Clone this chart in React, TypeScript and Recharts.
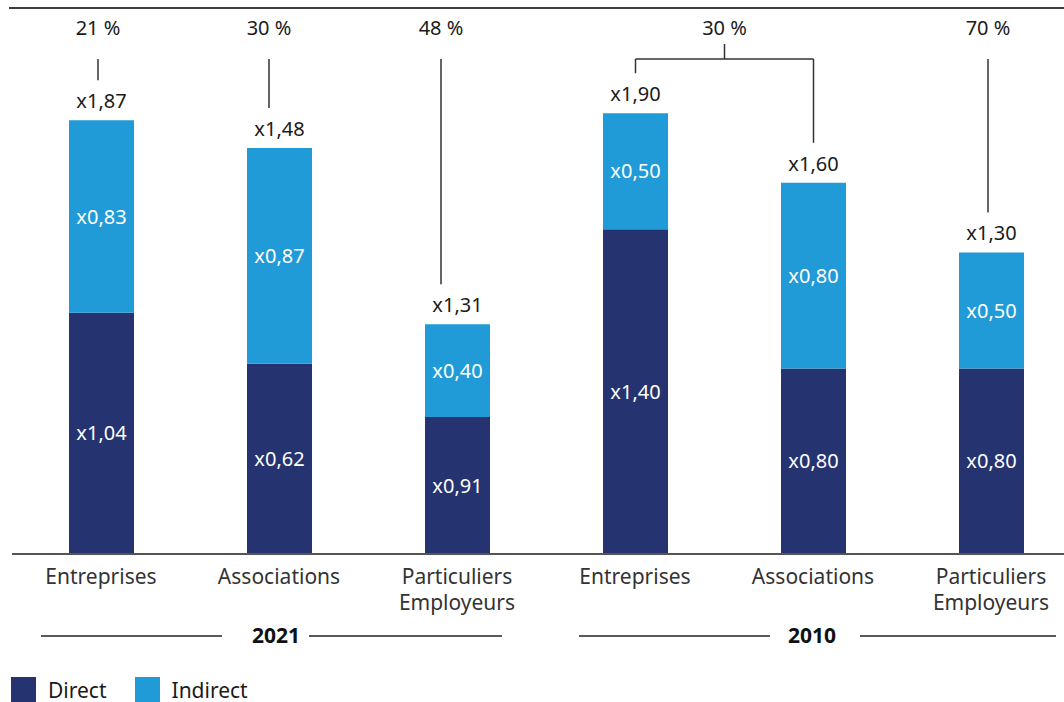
import React from "react";
import { BarChart, Bar, XAxis, YAxis, LabelList } from "recharts";

// data
const keys = ["e21", "a21", "p21", "e10", "a10", "p10"];
const categories = [
  "Entreprises",
  "Associations",
  "Particuliers\nEmployeurs",
  "Entreprises",
  "Associations",
  "Particuliers\nEmployeurs",
];
const years = ["2021", "2021", "2021", "2010", "2010", "2010"];
const direct = [1.04, 0.82, 0.59, 1.4, 0.8, 0.8];
const indirect = [0.83, 0.93, 0.4, 0.5, 0.8, 0.5];
const directLabels = ["x1,04", "x0,62", "x0,91", "x1,40", "x0,80", "x0,80"];
const indirectLabels = ["x0,83", "x0,87", "x0,40", "x0,50", "x0,80", "x0,50"];
const totalLabels = ["x1,87", "x1,48", "x1,31", "x1,90", "x1,60", "x1,30"];
const shareLabels = ["21 %", "30 %", "48 %", "30 %", "", "70 %"];
// 2 = bracket joining this bar and the next one
const shareSpan = [1, 1, 1, 2, 0, 1];

const data = keys.map((k, i) => ({
  key: k,
  name: categories[i],
  year: years[i],
  direct: direct[i],
  indirect: indirect[i],
  directLabel: directLabels[i],
  indirectLabel: indirectLabels[i],
}));

const NAVY = "#253470";
const BLUE = "#209bd7";
const FONT = "'Noto Sans', 'Open Sans', sans-serif";
const TEXT = "#1a1a1a";

const W = 1080;
const H = 702;
const AXIS_H = 30;
const margin = { top: 90, right: 0, bottom: 148 - AXIS_H, left: 12 };
const BAND = (W - margin.left - margin.right) / keys.length;

// small nudges of the share markers, as in the original layout
const shareOffset = [-3.5, -10.5, -16.5, 0, 0, -3.5];
const SHARE_LINE_TOP = 59;

const yearRow: Record<string, { tx: number; l1: number; l2: number; r1: number; r2: number }> = {
  "2021": { tx: -3, l1: -238, l2: -57, r1: 30, r2: 223 },
  "2010": { tx: -1, l1: -234, l2: -43, r1: 47, r2: 243 },
};

const TopMarks = (props: any) => {
  const { x, y, width, index } = props;
  const cx = x + width / 2;
  const items: React.ReactNode[] = [];
  items.push(
    <text key="t" x={cx} y={y - 12} textAnchor="middle" fontSize={20} fill={TEXT} fontFamily={FONT}>
      {totalLabels[index]}
    </text>
  );
  const span = shareSpan[index];
  const lx = cx + shareOffset[index];
  items.push(
    <line key="v" x1={lx} x2={lx} y1={SHARE_LINE_TOP} y2={y - 40} stroke="#333" strokeWidth={1.5} />
  );
  if (span === 2) {
    const mid = cx + BAND / 2;
    items.push(
      <line key="h" x1={cx} x2={cx + BAND} y1={SHARE_LINE_TOP} y2={SHARE_LINE_TOP} stroke="#333" strokeWidth={1.5} />,
      <line key="m" x1={mid} x2={mid} y1={44} y2={SHARE_LINE_TOP} stroke="#333" strokeWidth={1.5} />,
      <text key="p" x={mid} y={35} textAnchor="middle" fontSize={20} fill={TEXT} fontFamily={FONT}>
        {shareLabels[index]}
      </text>
    );
  } else if (span === 1) {
    items.push(
      <text key="p" x={lx} y={35} textAnchor="middle" fontSize={20} fill={TEXT} fontFamily={FONT}>
        {shareLabels[index]}
      </text>
    );
  }
  return <g>{items}</g>;
};

const CategoryTick = (props: any) => {
  const { x, y, payload, index } = props;
  const i = index ?? keys.indexOf(payload.value);
  const lines = categories[i].split("\n");
  const yr = years[i];
  const isMid = i === 1 || i === 4;
  const row = yearRow[yr];
  const ly = y + 74;
  return (
    <g>
      {lines.map((l, k) => (
        <text key={k} x={x} y={y + 22 + k * 26} textAnchor="middle" fontSize={21} fill="#333" fontFamily={FONT}>
          {l}
        </text>
      ))}
      {isMid && (
        <g>
          <line x1={x + row.l1} x2={x + row.l2} y1={ly} y2={ly} stroke="#222" strokeWidth={1.5} />
          <line x1={x + row.r1} x2={x + row.r2} y1={ly} y2={ly} stroke="#222" strokeWidth={1.5} />
          <text x={x + row.tx} y={ly + 7} textAnchor="middle" fontSize={21} fontWeight={700} fill="#111" fontFamily={FONT}>
            {yr}
          </text>
        </g>
      )}
    </g>
  );
};

const legendItems = [
  { name: "Direct", color: NAVY },
  { name: "Indirect", color: BLUE },
];

export default function App() {
  return (
    <div
      style={{
        position: "absolute",
        left: 0,
        top: 0,
        width: 1064,
        height: 702,
        overflow: "hidden",
        background: "#fff",
        fontFamily: FONT,
      }}
    >
      <div style={{ position: "absolute", left: 9, top: 7, width: 1055, height: 2, background: "#3d3d3d" }} />
      <BarChart width={W} height={H} data={data} margin={margin} barSize={65}>
        <YAxis hide domain={[0, 2]} />
        <XAxis
          dataKey="key"
          height={AXIS_H}
          tickLine={false}
          axisLine={{ stroke: "#555", strokeWidth: 2 }}
          tick={<CategoryTick />}
          interval={0}
        />
        <Bar dataKey="direct" stackId="a" fill={NAVY} isAnimationActive={false}>
          <LabelList dataKey="directLabel" position="center" fill="#fff" fontSize={20} fontFamily={FONT} />
        </Bar>
        <Bar dataKey="indirect" stackId="a" fill={BLUE} isAnimationActive={false}>
          <LabelList dataKey="indirectLabel" position="center" fill="#fff" fontSize={20} fontFamily={FONT} />
          <LabelList dataKey="indirect" content={<TopMarks />} />
        </Bar>
      </BarChart>
      <div style={{ position: "absolute", left: 11, top: 677, display: "flex", alignItems: "center" }}>
        {legendItems.map((it) => (
          <div key={it.name} style={{ display: "flex", alignItems: "center", marginRight: 28 }}>
            <div style={{ width: 25, height: 25, background: it.color, marginRight: 12 }} />
            <span style={{ fontSize: 21, color: TEXT, lineHeight: "22px" }}>{it.name}</span>
          </div>
        ))}
      </div>
    </div>
  );
}
